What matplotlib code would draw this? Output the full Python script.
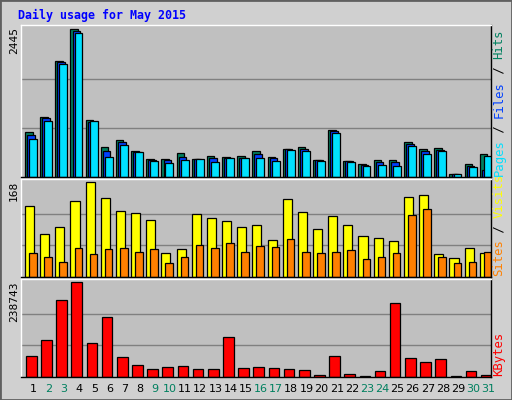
import matplotlib
matplotlib.use("Agg")
import matplotlib.pyplot as plt
import numpy as np

days = list(range(1, 32))
weekend = [2, 3, 9, 10, 16, 17, 23, 24, 30, 31]
hits = [747, 995, 1930, 2445, 951, 503, 619, 437, 304, 304, 404, 304, 354, 337, 354, 437, 337, 470, 503, 288, 785, 271, 221, 288, 288, 586, 470, 487, 55, 221, 387]
files = [702, 979, 1908, 2411, 918, 437, 586, 420, 288, 288, 337, 304, 321, 321, 321, 387, 321, 470, 470, 288, 769, 271, 205, 254, 254, 553, 437, 453, 55, 188, 111]
pages = [636, 935, 1864, 2378, 935, 337, 536, 420, 271, 238, 288, 304, 254, 321, 321, 321, 271, 453, 437, 271, 735, 254, 188, 205, 188, 520, 387, 437, 55, 171, 354]
visits = [125, 76, 89, 135, 168, 140, 116, 113, 100, 42, 49, 111, 104, 98, 89, 91, 65, 138, 115, 84, 107, 91, 73, 69, 64, 142, 144, 40, 33, 51, 42]
sites = [42, 36, 27, 51, 40, 49, 51, 45, 49, 25, 36, 56, 51, 60, 45, 55, 53, 67, 45, 42, 45, 47, 31, 36, 42, 109, 120, 35, 25, 27, 44]
kbytes = [53131, 92326, 194233, 238743, 84487, 149812, 50518, 29614, 19162, 24388, 27001, 19162, 19162, 100165, 21775, 24388, 21775, 19162, 16549, 6097, 53131, 8710, 3484, 13936, 186394, 47905, 37453, 45292, 3484, 13936, 6097]

W, H = 512, 400
fig = plt.figure(figsize=(W/100, H/100), dpi=100)
fig.patch.set_facecolor('#D0D0D0')
# 3D border
fig.add_artist(plt.Rectangle((0, 0), 1, 1, transform=fig.transFigure, fill=False, ec='#606060', lw=2))

def ax_px(x0, y0, x1, y1):
    return fig.add_axes([x0/W, 1-y1/H, (x1-x0)/W, (y1-y0)/H])

L, R = 21, 491
panels = [(25, 177), (179, 277), (279, 377)]
x = np.array(days, dtype=float)
lw = 0.9
mono = 'DejaVu Sans Mono'

def setup(ax, top):
    ax.set_facecolor('#C0C0C0')
    ax.set_xlim(0.5, 31.5)
    ax.set_ylim(0, top*1.03)
    ax.set_xticks([]); ax.set_yticks([])
    for s in ax.spines.values():
        s.set_color('black'); s.set_linewidth(1)
    ax.spines['top'].set_color('white'); ax.spines['left'].set_color('white')
    for f in (1/3, 2/3):
        ax.axhline(top*f, color='#808080', lw=1, zorder=0)

a1 = ax_px(L, *[panels[0][0]], R, panels[0][1]) if False else ax_px(L, panels[0][0], R, panels[0][1])
setup(a1, 2445)
a1.bar(x-0.24, hits, width=0.5, align='edge', color='#00805F', ec='black', lw=lw)
a1.bar(x-0.1, files, width=0.5, align='edge', color='#0040FF', ec='black', lw=lw)
a1.bar(x+0.03, pages, width=0.52, align='edge', color='#00E0FF', ec='black', lw=lw)

a2 = ax_px(L, panels[1][0], R, panels[1][1])
setup(a2, 168)
a2.bar(x-0.24, visits, width=0.6, align='edge', color='#FFFF00', ec='black', lw=lw)
a2.bar(x+0.03, sites, width=0.5, align='edge', color='#FF8000', ec='black', lw=lw)

a3 = ax_px(L, panels[2][0], R, panels[2][1])
setup(a3, 238743)
a3.bar(x-0.17, kbytes, width=0.7, align='edge', color='#FF0000', ec='black', lw=lw)

fig.text(18/W, 1-15/H, 'Daily usage for May 2015', family=mono, weight='bold',
         color='#0000FF', fontsize=8.4, va='center', ha='left')

for ytop, lab in [(25, '2445'), (179, '168'), (279, '238743')]:
    fig.text(14/W, 1-(ytop+2)/H, lab, family=mono, fontsize=8, rotation=90,
             va='top', ha='center', color='black')

def right_label(parts, ybottom):
    y = ybottom
    cw = 7.3
    for txt, col in parts:
        fig.text(499/W, 1-y/H, txt, family=mono, fontsize=8.8, rotation=90,
                 va='bottom', ha='center', color=col)
        y -= cw*len(txt)

right_label([('Pages', '#00E0FF'), (' / ', 'black'), ('Files', '#0040FF'),
             (' / ', 'black'), ('Hits', '#00805F')], 176)
right_label([('Sites', '#FF8000'), (' / ', 'black'), ('Visits', '#FFFF00')], 276)
right_label([('KBytes', '#FF0000')], 376)

slot = (R-L)/31
for d in days:
    xc = L + slot*(d-0.5) + 5
    fig.text(xc/W, 1-389/H, str(d), fontsize=8, ha='center', va='center',
             color='#00805F' if d in weekend else 'black')

fig.savefig('out.png', dpi=100, facecolor=fig.get_facecolor())
